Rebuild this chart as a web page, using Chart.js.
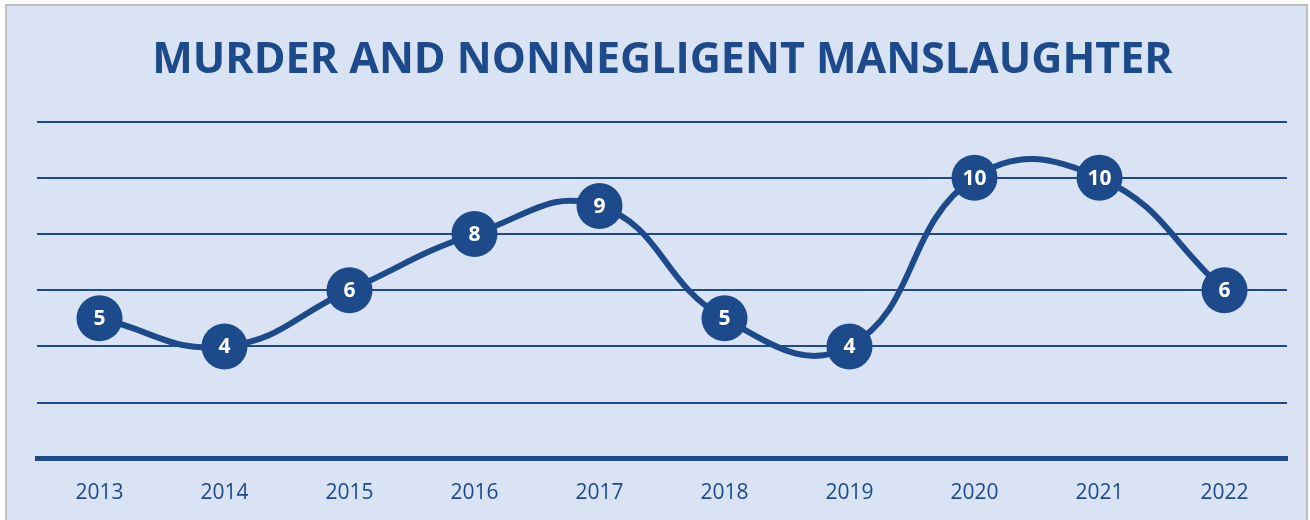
<!DOCTYPE html>
<html>
<head>
<meta charset="utf-8">
<script src="https://cdn.jsdelivr.net/npm/chart.js@4.4.0/dist/chart.umd.min.js"></script>
<style>
  html, body { margin: 0; padding: 0; background: #ffffff; }
  #frame {
    position: absolute; left: 5px; top: 4px; width: 1303px; height: 530px;
    border: 2px solid #bfbfbf; background: #dae3f3; box-sizing: border-box;
  }
  #wrap { position: absolute; left: 0; top: 0; width: 1310px; height: 520px; }
</style>
</head>
<body>
<div id="frame"></div>
<div id="wrap"><canvas id="chart" width="1310" height="520"></canvas></div>
<script>
const years = ['2013', '2014', '2015', '2016', '2017', '2018', '2019', '2020', '2021', '2022'];
const counts = [5, 4, 6, 8, 9, 5, 4, 10, 10, 6];
const yTicks = [0, 2, 4, 6, 8, 10, 12];

const navy = '#1c4a8b';

// white numbers drawn on top of each point
const pointLabels = {
    id: 'pointLabels',
    afterDatasetsDraw(chart) {
        const ctx = chart.ctx;
        const meta = chart.getDatasetMeta(0);
        ctx.save();
        ctx.fillStyle = '#ffffff';
        ctx.font = 'bold 21px "Open Sans", sans-serif';
        ctx.textAlign = 'center';
        ctx.textBaseline = 'middle';
        meta.data.forEach((pt, i) => {
            ctx.fillText(String(counts[i]), pt.x, pt.y + 1);
        });
        ctx.restore();
    }
};

new Chart(document.getElementById('chart'), {
    type: 'line',
    data: {
        labels: years,
        datasets: [{
            data: counts,
            borderColor: navy,
            borderWidth: 6,
            tension: 0.45,
            pointRadius: 23,
            pointHoverRadius: 23,
            pointBackgroundColor: navy,
            pointBorderColor: navy,
            pointBorderWidth: 0,
        }],
    },
    options: {
        responsive: false,
        animation: false,
        layout: { padding: { left: 37, right: 22, top: 0, bottom: 0 } },
        plugins: {
            legend: { display: false },
            tooltip: { enabled: false },
            title: {
                display: true,
                text: 'MURDER AND NONNEGLIGENT MANSLAUGHTER',
                color: navy,
                font: { family: '"Open Sans", sans-serif', size: 43, weight: 'bold' },
                padding: { top: 35, bottom: 35 },
            },
        },
        scales: {
            x: {
                offset: true,
                grid: { display: false },
                border: { display: true, color: navy, width: 5 },
                ticks: {
                    color: navy,
                    font: { family: '"Open Sans", sans-serif', size: 21 },
                    padding: 14,
                },
            },
            y: {
                min: 0,
                max: 12,
                afterBuildTicks(axis) {
                    axis.ticks = yTicks.map(v => ({ value: v }));
                },
                ticks: { display: false },
                grid: { color: navy, lineWidth: 2, drawTicks: false },
                border: { display: false },
            },
        },
    },
    plugins: [pointLabels],
});
</script>
</body>
</html>
